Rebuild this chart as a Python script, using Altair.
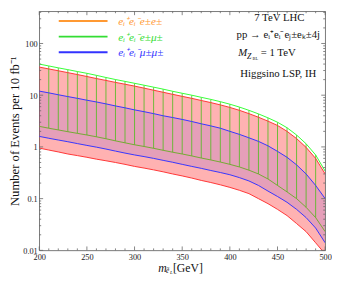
import altair as alt
import pandas as pd

# ---- data ----
mass = list(range(200, 510, 10))
green_upper = [40, 36.8, 33.8, 31.2, 28.7, 26.5, 24.2, 22.0, 20.1, 18.5, 17.0, 15.6, 14.3, 13.1, 11.9,
               10.9, 10.0, 9.1, 8.3, 7.5, 6.7, 5.9, 5.1, 4.35, 3.65, 3.0, 2.35, 1.7, 1.15, 0.7, 0.34]
red_upper = [35, 32.2, 29.7, 27.3, 25.1, 23.0, 21.0, 19.3, 17.7, 16.3, 15.0, 13.7, 12.5, 11.4, 10.4,
             9.5, 8.7, 7.9, 7.2, 6.5, 5.8, 5.1, 4.4, 3.75, 3.15, 2.6, 2.0, 1.45, 0.98, 0.6, 0.3]
blue_upper = [12, 11.1, 10.2, 9.4, 8.7, 8.0, 7.4, 6.8, 6.2, 5.7, 5.2, 4.8, 4.4, 4.0, 3.7,
              3.4, 3.1, 2.8, 2.55, 2.3, 2.0, 1.75, 1.5, 1.28, 1.05, 0.82, 0.63, 0.45, 0.3, 0.18, 0.1]
green_lower = [2.5, 2.3, 2.13, 1.97, 1.83, 1.7, 1.57, 1.44, 1.31, 1.2, 1.1, 1.02, 0.94, 0.86, 0.79,
               0.73, 0.67, 0.61, 0.56, 0.51, 0.46, 0.41, 0.355, 0.3, 0.24, 0.18, 0.135, 0.1, 0.068, 0.043, 0.023]
blue_lower = [1.6, 1.47, 1.36, 1.26, 1.16, 1.07, 0.99, 0.91, 0.83, 0.76, 0.70, 0.65, 0.6, 0.55, 0.505,
              0.46, 0.42, 0.385, 0.35, 0.32, 0.29, 0.255, 0.22, 0.18, 0.14, 0.11, 0.085, 0.062, 0.043, 0.027, 0.014]
red_lower = [0.95, 0.87, 0.8, 0.73, 0.68, 0.63, 0.58, 0.54, 0.5, 0.46, 0.42, 0.39, 0.36, 0.33, 0.3,
             0.275, 0.25, 0.225, 0.205, 0.185, 0.165, 0.145, 0.125, 0.1, 0.08, 0.062, 0.047, 0.033, 0.023, 0.014, 0.0085]

x_major = [200, 250, 300, 350, 400, 450, 500]
x_minor = [v for v in range(200, 501, 10) if v % 50 != 0]
y_major = [0.01, 0.1, 1, 10, 100]
y_minor = [m * 10.0 ** e for e in range(-2, 3) for m in range(2, 10) if m * 10.0 ** e < 420]

legend_labels = ["eᵢ⁺eᵢ⁻e±e±", "eᵢ⁺eᵢ⁻e±μ±", "eᵢ⁺eᵢ⁻μ±μ±"]
legend_colors = ["#FF9933", "#33DD33", "#3333FF"]

df = pd.DataFrame({
    "m": mass, "GU": green_upper, "RU": red_upper, "BU": blue_upper,
    "GL": green_lower, "BL": blue_lower, "RL": red_lower,
})

W, H = 293, 245
SERIF = "Liberation Serif"

xscale = alt.Scale(domain=[200, 500], nice=False, zero=False)
yscale = alt.Scale(type="log", domain=[0.01, 420], nice=False)
xaxis = alt.Axis(values=x_major, ticks=False, domain=False, grid=False, labelFont=SERIF,
                 labelFontSize=8.5, labelColor="#222", labelPadding=2, title=None, labelFlush=False)
yaxis = alt.Axis(values=y_major, ticks=False, domain=False, grid=False, labelFont=SERIF,
                 labelFontSize=8.5, labelColor="#222", labelPadding=2, format="~g",
                 title="Number of Events per 10 fb⁻¹", titleFont=SERIF, titleFontSize=13,
                 titleFontWeight="normal", titleColor="#111", titleX=-18, titlePadding=0)


def X(field="m"):
    return alt.X(f"{field}:Q", scale=xscale, axis=xaxis)


def Y(field):
    return alt.Y(f"{field}:Q", scale=yscale, axis=yaxis)


base = alt.Chart(df)

red_band = base.mark_area(color="#FF0000", opacity=0.3, clip=True).encode(
    x=X(), y=Y("RL"), y2="RU")
blue_band = base.mark_area(color="#0000FF", opacity=0.1, clip=True).encode(
    x=X(), y=Y("BL"), y2="BU")
hatch = base.transform_filter("datum.m > 200 && datum.m < 500").mark_rule(
    color="#55BB22", strokeWidth=1, opacity=0.85).encode(x=X(), y=Y("GL"), y2="GU")


def line(field, color, width=1.0, opacity=1.0):
    return base.mark_line(color=color, strokeWidth=width, opacity=opacity, clip=True).encode(
        x=X(), y=Y(field))


lines = [
    line("RL", "#FF3333"), line("RU", "#FF3333"),
    line("BL", "#3333FF"), line("BU", "#3333FF"),
    line("GL", "#66AA22", 1.0, 0.9), line("GU", "#33FF33"),
]

# frame ticks (inside, all four sides)
xmaj = pd.DataFrame({"t": x_major})
xmin = pd.DataFrame({"t": x_minor})
ymaj = pd.DataFrame({"t": y_major})
ymin = pd.DataFrame({"t": y_minor})
TC = "#666"


def xticks(d, L):
    b = alt.Chart(d).mark_rule(color=TC, strokeWidth=0.8)
    return [b.encode(x=X("t"), y=alt.value(H), y2=alt.value(H - L)),
            b.encode(x=X("t"), y=alt.value(0), y2=alt.value(L))]


def yticks(d, L):
    b = alt.Chart(d).mark_rule(color=TC, strokeWidth=0.8)
    return [b.encode(y=Y("t"), x=alt.value(0), x2=alt.value(L)),
            b.encode(y=Y("t"), x=alt.value(W), x2=alt.value(W - L))]


ticks = xticks(xmaj, 4) + xticks(xmin, 2) + yticks(ymaj, 4) + yticks(ymin, 2)

one = pd.DataFrame({"a": [0]})


def txt(s, x, y, size=10, color="#111", style="normal", align="left"):
    return alt.Chart(one).mark_text(text=s, font=SERIF, fontSize=size, color=color,
                                    fontStyle=style, align=align, baseline="alphabetic").encode(
        x=alt.value(x), y=alt.value(y))


# legend
legend = []
for i, (lab, col) in enumerate(zip(legend_labels, legend_colors)):
    yy = 10 + 16 * i
    legend.append(alt.Chart(one).mark_rule(color=col, strokeWidth=2).encode(
        x=alt.value(20), x2=alt.value(70), y=alt.value(yy)))
    legend.append(txt(lab, 81, yy + 4, 11.5, col, "italic"))

# annotations (page coords minus plot origin 40, 8)
ann = [
    txt("7 TeV LHC", 246, 9.5, 11, align="center"),
    txt("pp → eᵢ⁺eᵢ⁻eⱼ±eₖ±4j", 245, 27.5, 11, align="center"),
    txt("M", 204, 46, 11, style="italic"),
    txt("Z", 213, 48.5, 8, style="italic"),
    txt("BL", 218.5, 50, 4.5),
    txt("= 1 TeV", 227, 46, 11),
    txt("Higgsino LSP, IH", 245, 67, 11, align="center"),
    # x title
    txt("m", 122, 267, 12, style="italic"),
    txt("ẽ", 130, 268.5, 7.5, style="italic"),
    txt("L", 134, 269.5, 5, style="italic"),
    txt("[GeV]", 137, 267, 12),
]

chart = alt.layer(red_band, blue_band, hatch, *lines, *ticks, *legend, *ann).properties(
    width=W, height=H,
    padding={"left": 32, "top": 0, "right": 7, "bottom": 25},
    autosize=alt.AutoSizeParams(type="none"),
).configure_view(stroke="#555", strokeWidth=0.8)

chart.save("out.html", embed_options={"renderer": "svg", "actions": False})
